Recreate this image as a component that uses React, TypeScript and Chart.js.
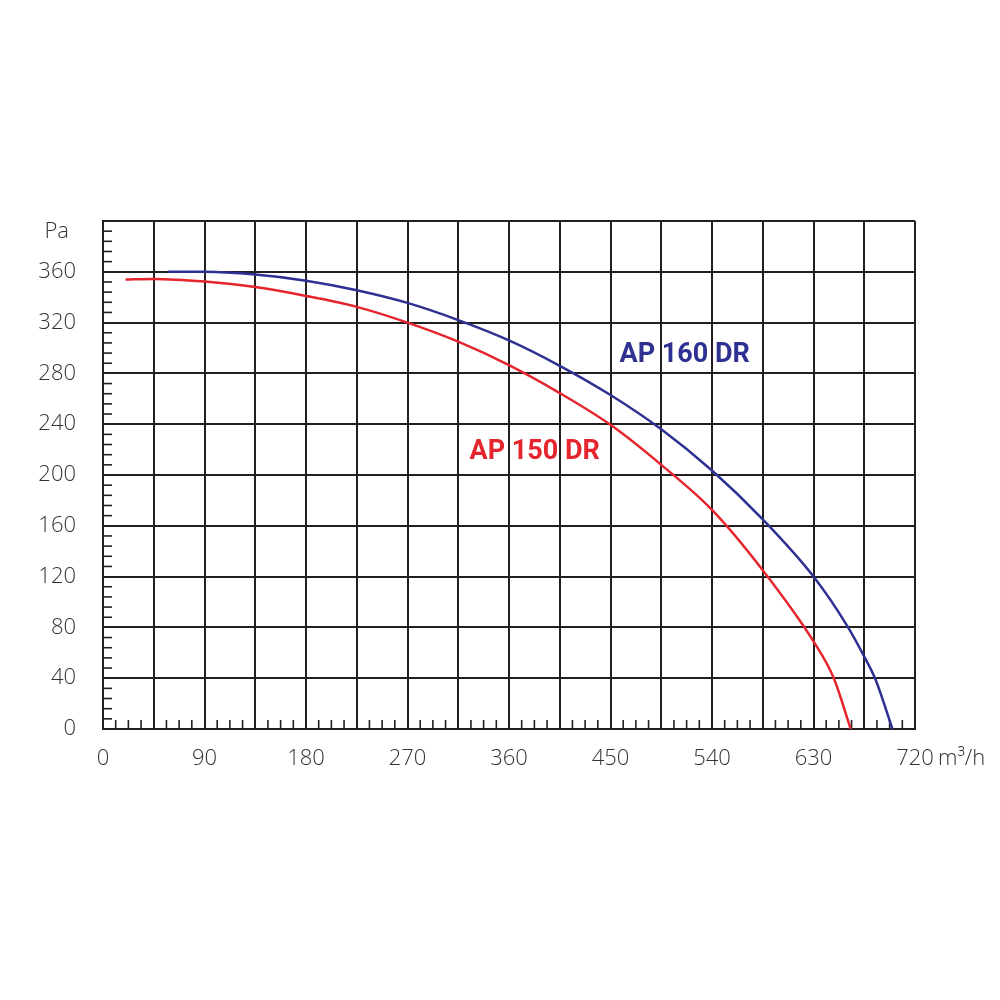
import { useEffect, useRef } from "react";
import { Chart, registerables } from "chart.js";

Chart.register(...registerables);

// caudal (m³/h) y presión (Pa)
const ap160Flow = [58, 90, 135, 180, 225, 270, 315, 360, 405, 450, 495, 540, 585, 630, 660, 675, 685, 700];
const ap160Pressure = [360, 360, 357.8, 353, 345.5, 335.5, 322, 306, 286, 263, 236, 203.5, 165, 120, 81, 57, 39, 0];

const ap150Flow = [20, 45, 90, 135, 180, 225, 270, 315, 360, 405, 450, 495, 540, 585, 630, 648, 663];
const ap150Pressure = [354, 354.4, 352.3, 348, 341, 332.4, 320, 305, 286.5, 264.5, 239.5, 208, 172.5, 125, 69, 40, 0];

const xLabeled = [0, 90, 180, 270, 360, 450, 540, 630, 720];
const yLabeled = [0, 40, 80, 120, 160, 200, 240, 280, 320, 360];

const seriesLabels = [
  { text: "AP 160 DR", color: "#2e3192", x: 458, y: 294 },
  { text: "AP 150 DR", color: "#e5252e", x: 325, y: 218 },
];

const GRID = "#231f20";
const TEXT = "#333333";
const tickFont = { family: "'Open Sans', sans-serif", size: 22, weight: 300 as any };

const extrasPlugin = {
  id: "extras",
  beforeDatasetsDraw(chart: any) {
    const { ctx, scales } = chart;
    const xs = scales.x;
    const ys = scales.y;
    ctx.save();
    ctx.strokeStyle = GRID;
    ctx.lineWidth = 1.6;
    // marcas menores
    for (let v = 0; v < 720; v += 11.25) {
      if (v % 45 === 0) continue;
      const px = xs.getPixelForValue(v);
      ctx.beginPath();
      ctx.moveTo(px, ys.bottom);
      ctx.lineTo(px, ys.bottom - 9);
      ctx.stroke();
    }
    for (let v = 0; v < 400; v += 8) {
      if (v % 40 === 0) continue;
      const py = ys.getPixelForValue(v);
      ctx.beginPath();
      ctx.moveTo(xs.left, py);
      ctx.lineTo(xs.left + 9, py);
      ctx.stroke();
    }
    ctx.restore();
  },
  afterDraw(chart: any) {
    const { ctx, scales } = chart;
    const xs = scales.x;
    const ys = scales.y;
    ctx.save();
    ctx.fillStyle = TEXT;
    ctx.font = "300 22px 'Open Sans', sans-serif";
    ctx.textBaseline = "middle";
    ctx.textAlign = "right";
    ctx.fillText("Pa", xs.left - 34, ys.getPixelForValue(400) + 11);
    ctx.textAlign = "left";
    ctx.fillText("m³/h", xs.getPixelForValue(720) + 23, ys.bottom + 30);
    ctx.font = "bold 27px Roboto, 'Open Sans', sans-serif";
    for (const l of seriesLabels) {
      ctx.fillStyle = l.color;
      ctx.fillText(l.text, xs.getPixelForValue(l.x), ys.getPixelForValue(l.y));
    }
    ctx.restore();
  },
};

export default function App() {
  const canvasRef = useRef<HTMLCanvasElement>(null);

  useEffect(() => {
    document.body.style.margin = "0";
    if (!canvasRef.current) return;
    const chart = new Chart(canvasRef.current, {
      type: "line",
      data: {
        datasets: [
          {
            label: "AP 160 DR",
            data: ap160Flow.map((x, i) => ({ x, y: ap160Pressure[i] })),
            borderColor: "#2e3192",
            borderWidth: 2.5,
            pointRadius: 0,
            cubicInterpolationMode: "monotone",
          },
          {
            label: "AP 150 DR",
            data: ap150Flow.map((x, i) => ({ x, y: ap150Pressure[i] })),
            borderColor: "#e5252e",
            borderWidth: 2.5,
            pointRadius: 0,
            cubicInterpolationMode: "monotone",
          },
        ],
      },
      options: {
        responsive: true,
        maintainAspectRatio: false,
        animation: false,
        layout: { padding: { left: 0, right: 85, top: 221, bottom: 0 } },
        plugins: { legend: { display: false }, tooltip: { enabled: false } },
        scales: {
          x: {
            type: "linear",
            min: 0,
            max: 720,
            afterFit: (s: any) => {
              s.height = 271;
            },
            ticks: {
              stepSize: 45,
              padding: 17,
              color: TEXT,
              font: tickFont,
              maxRotation: 0,
              autoSkip: false,
              callback: (v: any) => (xLabeled.includes(v) ? String(v) : ""),
            },
            grid: { color: GRID, lineWidth: 2, drawTicks: false },
            border: { color: GRID, width: 2 },
          },
          y: {
            min: 0,
            max: 400,
            afterFit: (s: any) => {
              s.width = 103;
            },
            ticks: {
              stepSize: 40,
              padding: 27,
              color: TEXT,
              font: tickFont,
              autoSkip: false,
              callback: (v: any) => (yLabeled.includes(v) ? String(v) : ""),
            },
            grid: { color: GRID, lineWidth: 2, drawTicks: false },
            border: { color: GRID, width: 2 },
          },
        },
      },
      plugins: [extrasPlugin],
    });
    return () => chart.destroy();
  }, []);

  return (
    <div style={{ width: 1000, height: 1000, background: "#fff" }}>
      <canvas ref={canvasRef} />
    </div>
  );
}
